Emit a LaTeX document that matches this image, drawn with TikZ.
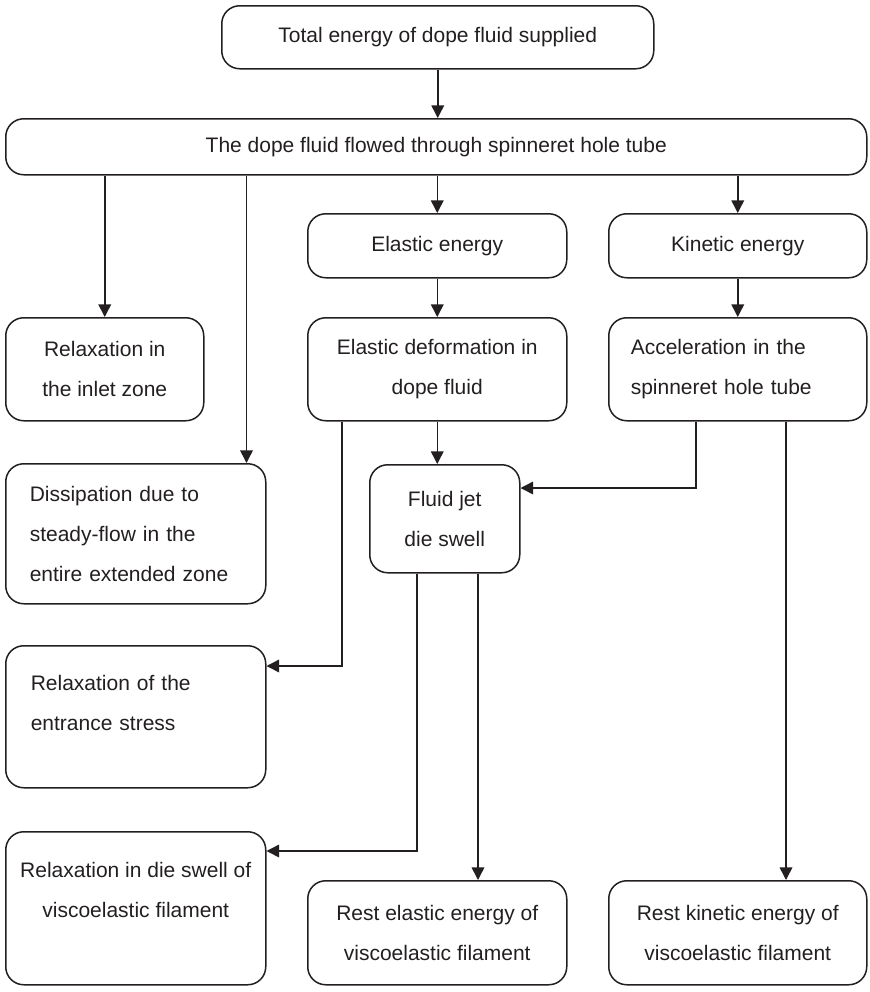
\documentclass[tikz,border=0pt]{standalone}
\usepackage{fontspec}
\setmainfont{Liberation Sans}
\usetikzlibrary{arrows.meta}
\definecolor{ink}{HTML}{231F20}

\begin{document}
\begin{tikzpicture}[x=0.5pt, y=-0.5pt, line width=0.75pt, color=ink,
  >={Triangle[length=6.3pt, width=6.3pt]},
  box/.style={draw, rounded corners=9pt, anchor=north west, align=center,
    inner sep=0pt, font=\fontsize{10.5}{20}\selectfont},
  leftbox/.style={box, align=left}]
  \useasboundingbox (0,0) rectangle (870,992);

  % Nodes
  \node [box, minimum width=216pt, minimum height=31.5pt] (total) at (221,5) {Total energy of dope fluid supplied};
  \node [box, minimum width=430.5pt, minimum height=28pt] (flow) at (5,118) {The dope fluid flowed through spinneret hole tube};
  \node [box, minimum width=129.5pt, minimum height=32pt] (elastic) at (307,213) {Elastic energy};
  \node [box, minimum width=129pt, minimum height=32pt] (kinetic) at (608,213) {Kinetic energy};
  \node [box, minimum width=99pt, minimum height=51.5pt] (inlet) at (5,317) {Relaxation in\\the inlet zone};
  \node [box, minimum width=129.5pt, minimum height=51.5pt] (deform) at (307,317) {Elastic deformation in\\dope fluid};
  \node [leftbox, text width=107pt, minimum width=129pt, minimum height=51.5pt] (accel) at (608,317) {Acceleration in the\\spinneret hole tube};
  \node [leftbox, text width=106pt, minimum width=130pt, minimum height=70pt] (dissip) at (5,463) {Dissipation due to\\steady-flow in the\\entire extended zone};
  \node [box, minimum width=75pt, minimum height=54pt] (jet) at (369,464) {Fluid jet\\die swell};
  \node [leftbox, text width=105pt, minimum width=130pt, minimum height=71pt] (entrance) at (5,645) {Relaxation of the\\entrance stress\\[-6pt]\mbox{}};
  \node [box, minimum width=130pt, minimum height=76.5pt] (dieswell) at (5,831) {Relaxation in die swell of\\viscoelastic filament\\[-2pt]\mbox{}};
  \node [box, minimum width=129.5pt, minimum height=52pt] (restel) at (307,880) {Rest elastic energy of\\viscoelastic filament};
  \node [box, minimum width=129pt, minimum height=52pt] (restkin) at (608,880) {Rest kinetic energy of\\viscoelastic filament};

  \coordinate (dtop) at ([xshift=-10pt]dissip.north east);
  \coordinate (kin) at ([xshift=89pt]accel.south west);
  \coordinate (el) at ([xshift=54.5pt]jet.south west);

  % Edges
  \draw [->] (total.south) -- (total.south |- flow.north);
  \draw [->] (inlet.north |- flow.south) -- (inlet.north);
  \draw [->] (dtop |- flow.south) -- (dtop);
  \draw [->] (elastic.north |- flow.south) -- (elastic.north);
  \draw [->] (kinetic.north |- flow.south) -- (kinetic.north);
  \draw [->] (elastic) -- (deform);
  \draw [->] (kinetic) -- (accel);
  \draw [->] (deform.south) -- (deform.south |- jet.north);
  \draw [->] ([xshift=17.5pt]deform.south west) |- ([yshift=-10.5pt]entrance.north east);
  \draw [->] ([xshift=44pt]accel.south west) |- ([yshift=-12pt]jet.north east);
  \draw [->] (kin) -- (kin |- restkin.north);
  \draw [->] ([xshift=24pt]jet.south west) |- ([yshift=-10pt]dieswell.north east);
  \draw [->] (el) -- (el |- restel.north);
\end{tikzpicture}
\end{document}
